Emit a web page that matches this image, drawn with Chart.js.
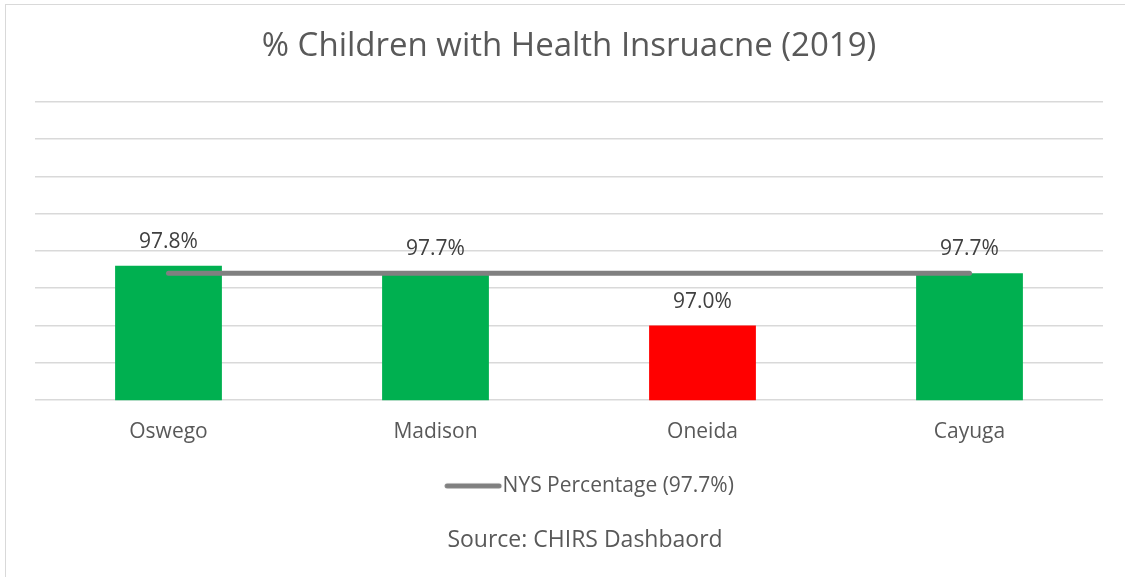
<!DOCTYPE html>
<html>
<head>
<meta charset="utf-8">
<script src="https://cdn.jsdelivr.net/npm/chart.js@4"></script>
<style>
  body { margin: 0; background: #fff; }
  #wrap { position: relative; width: 1125px; height: 577px; overflow: hidden; }
  #frame { position: absolute; left: 5px; top: 4px; width: 1140px; height: 600px; border: 1.5px solid #d9d9d9; box-sizing: border-box; }
  canvas { position: absolute; left: 0; top: 0; }
</style>
</head>
<body>
<div id="wrap">
  <div id="frame"></div>
  <canvas id="chart" width="1125" height="577"></canvas>
</div>
<script>
// data
const counties = ['Oswego', 'Madison', 'Oneida', 'Cayuga'];
const pctInsured = [97.8, 97.7, 97.0, 97.7];
const barColors = ['#00b050', '#00b050', '#ff0000', '#00b050'];
const nysPct = [97.7, 97.7, 97.7, 97.7];
const sourceText = 'Source: CHIRS Dashbaord';

// legend marker: short grey line with round ends, sitting at the right of the image
const legendLine = document.createElement('canvas');
legendLine.width = 112;
legendLine.height = 8;
const lctx = legendLine.getContext('2d');
lctx.strokeStyle = '#808080';
lctx.lineWidth = 5;
lctx.lineCap = 'round';
lctx.beginPath();
lctx.moveTo(55, 4);
lctx.lineTo(107, 4);
lctx.stroke();

// draws the % value above each bar
const valueLabels = {
    id: 'valueLabels',
    afterLayout(chart) {
        // source line sits a bit right of centre in the original
        const sub = chart.boxes.find(b => b.options && b.options.text === sourceText);
        if (sub) {
            sub.left += 16;
            sub.right += 16;
        }
    },
    afterDatasetsDraw(chart) {
        const ctx = chart.ctx;
        const meta = chart.getDatasetMeta(1);
        ctx.save();
        ctx.font = '21px "Open Sans"';
        ctx.fillStyle = '#404040';
        ctx.textAlign = 'center';
        ctx.textBaseline = 'middle';
        meta.data.forEach((bar, i) => {
            ctx.fillText(pctInsured[i].toFixed(1) + '%', bar.x, bar.y - 24);
        });
        ctx.restore();
    }
};

const data = {
    labels: counties,
    datasets: [
        {
            type: 'line',
            label: 'NYS Percentage (97.7%)',
            data: nysPct,
            borderColor: '#808080',
            backgroundColor: '#808080',
            borderWidth: 5,
            borderCapStyle: 'round',
            pointRadius: 0,
            fill: false,
            order: 0
        },
        {
            type: 'bar',
            label: 'pct',
            data: pctInsured,
            backgroundColor: barColors,
            categoryPercentage: 1,
            barPercentage: 0.4,
            order: 1
        }
    ]
};

const config = {
    data: data,
    options: {
        responsive: false,
        animation: false,
        layout: {
            padding: { left: 35, right: 22, top: 0, bottom: 0 }
        },
        plugins: {
            title: {
                display: true,
                text: '% Children with Health Insruacne (2019)',
                color: '#595959',
                font: { family: 'Open Sans', size: 33, weight: 'normal' },
                padding: { top: 27, bottom: 35 }
            },
            subtitle: {
                display: true,
                position: 'bottom',
                text: sourceText,
                color: '#595959',
                font: { family: 'Open Sans', size: 23 },
                padding: { top: 20, bottom: 23 }
            },
            legend: {
                position: 'bottom',
                labels: {
                    filter: item => item.datasetIndex === 0,
                    usePointStyle: true,
                    pointStyle: legendLine,
                    pointStyleWidth: 88,
                    color: '#595959',
                    font: { family: 'Open Sans', size: 21 },
                    padding: 20
                }
            },
            tooltip: { enabled: false }
        },
        scales: {
            x: {
                grid: { display: false },
                border: { display: false },
                ticks: {
                    color: '#595959',
                    font: { family: 'Open Sans', size: 21 },
                    padding: 11
                }
            },
            y: {
                min: 96,
                max: 100,
                ticks: { display: false, stepSize: 0.5 },
                grid: { color: '#d9d9d9', lineWidth: 1.5, drawTicks: false },
                border: { display: false }
            }
        }
    },
    plugins: [valueLabels]
};

const chart = new Chart(document.getElementById('chart'), config);
</script>
</body>
</html>
